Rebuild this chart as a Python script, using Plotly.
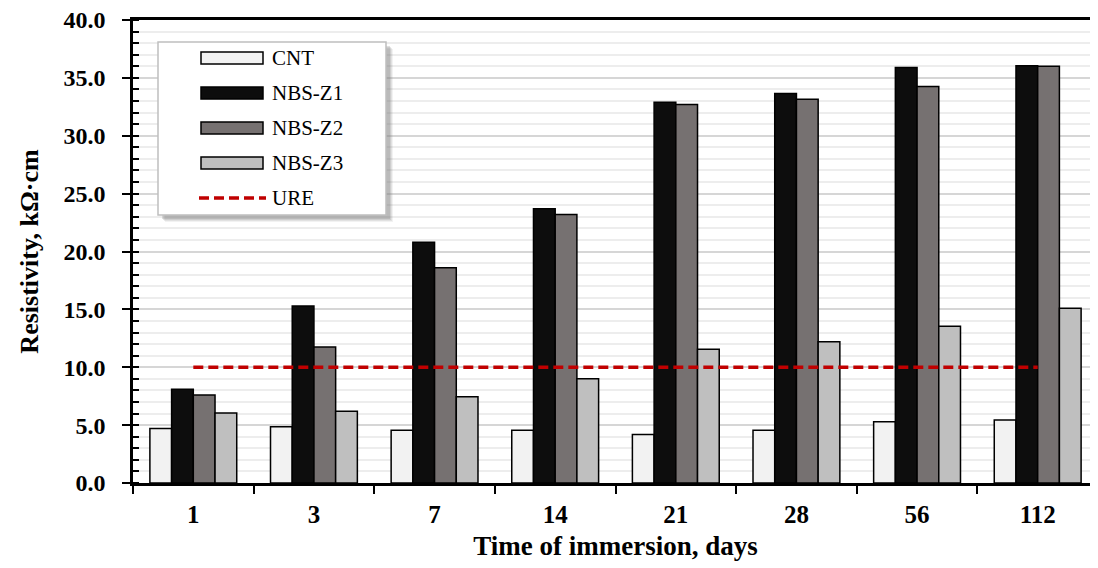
import plotly.graph_objects as go

days = ["1", "3", "7", "14", "21", "28", "56", "112"]
cnt = [4.7, 4.85, 4.55, 4.55, 4.2, 4.55, 5.3, 5.45]
nbs_z1 = [8.1, 15.3, 20.8, 23.7, 32.9, 33.65, 35.9, 36.05]
nbs_z2 = [7.6, 11.75, 18.6, 23.2, 32.7, 33.15, 34.25, 36.0]
nbs_z3 = [6.05, 6.2, 7.45, 9.0, 11.55, 12.2, 13.55, 15.1]
ure = [10.0] * len(days)

series_names = ["CNT", "NBS-Z1", "NBS-Z2", "NBS-Z3"]
series_colors = ["#F2F2F2", "#0D0D0D", "#767171", "#BFBFBF"]
ure_color = "#C00000"

# page body has an 8px margin; figure sized to fill the rest of the 1098x568 window
OFF = 8
W, H = 1090, 560
ML, MR, MT, MB = 125, 0, 12, 85
PW, PH = W - ML - MR, H - MT - MB

def px(x):  # page pixel -> paper
    return (x - OFF - ML) / PW

def py(y):
    return (H - MB - (y - OFF)) / PH

SERIF = "Liberation Serif"
DASH = "10px,5px"

fig = go.Figure()
for name, vals, col in zip(series_names, [cnt, nbs_z1, nbs_z2, nbs_z3], series_colors):
    fig.add_trace(go.Bar(x=days, y=vals, name=name, marker=dict(color=col, line=dict(color="#000000", width=1.5)),
                         showlegend=False))
fig.add_trace(go.Scatter(x=days, y=ure, name="URE", mode="lines",
                         line=dict(color=ure_color, width=3.5, dash=DASH), showlegend=False))

shapes = []
annotations = []
# legend box with soft shadow
bx0, bx1, by0, by1 = 158, 386, 42, 215
for off, op in [(7, 0.10), (6, 0.15), (5, 0.2), (4, 0.25)]:
    shapes.append(dict(type="rect", xref="paper", yref="paper", x0=px(bx0 + off), x1=px(bx1 + off),
                       y0=py(by1 + off), y1=py(by0 + off), fillcolor="#808080", opacity=op, line=dict(width=0),
                       layer="above"))
shapes.append(dict(type="rect", xref="paper", yref="paper", x0=px(bx0), x1=px(bx1), y0=py(by1), y1=py(by0),
                   fillcolor="#FFFFFF", line=dict(color="#BFBFBF", width=1.5), layer="above"))
entry_y = [58, 93, 128, 163, 198]
for i, (name, col) in enumerate(zip(series_names, series_colors)):
    yc = entry_y[i]
    shapes.append(dict(type="rect", xref="paper", yref="paper", x0=px(201), x1=px(263), y0=py(yc + 6), y1=py(yc - 6),
                       fillcolor=col, line=dict(color="#000000", width=1.5), layer="above"))
shapes.append(dict(type="line", xref="paper", yref="paper", x0=px(199), x1=px(266), y0=py(entry_y[4]), y1=py(entry_y[4]),
                   line=dict(color=ure_color, width=3.5, dash=DASH), layer="above"))
for name, yc in zip(series_names + ["URE"], entry_y):
    annotations.append(dict(text=name, xref="paper", yref="paper", x=px(270), y=py(yc), xanchor="left",
                            yanchor="middle", showarrow=False, font=dict(family=SERIF, size=21, color="#000000")))

fig.update_layout(
    width=W, height=H,
    margin=dict(l=ML, r=MR, t=MT, b=MB),
    paper_bgcolor="#FFFFFF", plot_bgcolor="#FFFFFF",
    barmode="group", bargap=0.28, bargroupgap=0,
    shapes=shapes, annotations=annotations,
    xaxis=dict(
        type="category", categoryorder="array", categoryarray=days,
        showline=True, linecolor="#000000", linewidth=2.5, mirror=True,
        ticks="outside", tickson="boundaries", ticklen=8, tickwidth=1.5, tickcolor="#000000",
        ticklabelstandoff=7,
        tickfont=dict(family=SERIF, size=25, color="#000000", weight="bold"),
        title=dict(text="Time of immersion, days", font=dict(family=SERIF, size=27, color="#000000", weight="bold"),
                   standoff=10),
        showgrid=False, zeroline=False,
    ),
    yaxis=dict(
        range=[0, 40], dtick=5, tickformat=".1f",
        showline=True, linecolor="#000000", linewidth=2.5,
        ticks="outside", ticklen=8, tickwidth=2, tickcolor="#000000",
        ticklabelstandoff=12, ticklabeloverflow="allow",
        tickfont=dict(family=SERIF, size=24, color="#000000", weight="bold"),
        showgrid=True, gridcolor="#D6D6D6", gridwidth=1.5,
        minor=dict(dtick=1, ticks="inside", ticklen=6, tickwidth=1.5, tickcolor="#000000",
                   showgrid=True, gridcolor="#EDEDED", gridwidth=1.5),
        zeroline=False,
        title=dict(text="Resistivity, kΩ·cm", font=dict(family=SERIF, size=26, color="#000000", weight="bold"),
                   standoff=18),
    ),
)

fig.write_html("out.html")
